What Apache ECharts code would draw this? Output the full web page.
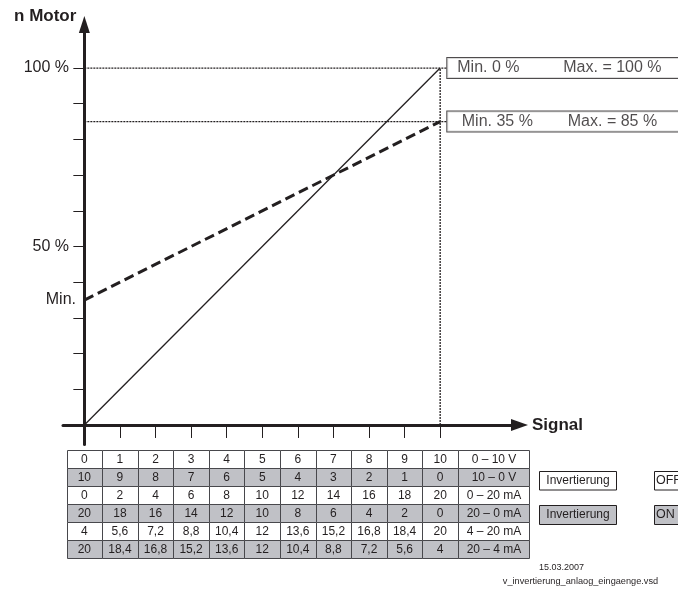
<!DOCTYPE html>
<html>
<head>
<meta charset="utf-8">
<script src="https://cdn.jsdelivr.net/npm/echarts@6/dist/echarts.min.js"></script>
<style>
html,body{margin:0;padding:0;background:#fff}
#chart{width:678px;height:592px}
</style>
</head>
<body>
<div id="chart"></div>
<script>
// Kennlinien
var signalRange = [0, 10];
var motorFull = [0, 100];
var motorLimited = [35, 85];
var xTicks = [1, 2, 3, 4, 5, 6, 7, 8, 9, 10];
var yTicks = [10, 20, 30, 40, 50, 60, 70, 80, 90, 100];
var yLabelValues = [35, 50, 100];
var boxTexts = [['Min. 0 %', 'Max. = 100 %'], ['Min. 35 %', 'Max. = 85 %']];

// Tabelle
var rowLabels = ['0 – 10 V', '10 – 0 V', '0 – 20 mA', '20 – 0 mA', '4 – 20 mA', '20 – 4 mA'];
var row010V = [0, 1, 2, 3, 4, 5, 6, 7, 8, 9, 10];
var row100V = [10, 9, 8, 7, 6, 5, 4, 3, 2, 1, 0];
var row020mA = [0, 2, 4, 6, 8, 10, 12, 14, 16, 18, 20];
var row200mA = [20, 18, 16, 14, 12, 10, 8, 6, 4, 2, 0];
var row420mA = [4, 5.6, 7.2, 8.8, 10.4, 12, 13.6, 15.2, 16.8, 18.4, 20];
var row204mA = [20, 18.4, 16.8, 15.2, 13.6, 12, 10.4, 8.8, 7.2, 5.6, 4];
var tableRows = [row010V, row100V, row020mA, row200mA, row420mA, row204mA];
var switchTexts = [['Invertierung', 'OFF'], ['Invertierung', 'ON']];
var footer = ['15.03.2007', 'v_invertierung_anlaog_eingaenge.vsd'];

var ink = '#231f20';
var gray = '#c0c1c6';
var font = '"Liberation Sans", Arial, sans-serif';
var boxX = 10.2;
var dots = {color: ink, width: 1.3, type: [2, 1]};

var myChart = echarts.init(document.getElementById('chart'));

var option = {
    animation: false,
    grid: {left: 63, right: 158.5, top: 24.5, bottom: 147.4},
    xAxis: {
        type: 'value',
        min: -0.6,
        max: 12.23,
        name: 'Signal',
        nameLocation: 'end',
        nameGap: 12.5,
        nameTextStyle: {fontFamily: font, fontWeight: 'bold', fontSize: 17, color: ink, align: 'left', verticalAlign: 'middle'},
        axisLine: {show: true, onZero: true, symbol: ['none', 'triangle'], symbolSize: [12, 17], lineStyle: {color: ink, width: 3}},
        axisTick: {show: true, customValues: xTicks, length: 13, lineStyle: {color: ink, width: 1}},
        axisLabel: {show: false},
        splitLine: {show: false}
    },
    yAxis: {
        type: 'value',
        min: -5.5,
        max: 112.2,
        name: 'n Motor',
        nameLocation: 'end',
        nameGap: 8.5,
        nameTextStyle: {fontFamily: font, fontWeight: 'bold', fontSize: 17, color: ink, align: 'right', verticalAlign: 'middle', padding: [0, 8, 0, 0]},
        axisLine: {show: true, onZero: true, symbol: ['none', 'triangle'], symbolSize: [11, 17], lineStyle: {color: ink, width: 3}},
        axisTick: {show: true, customValues: yTicks, length: 11, lineStyle: {color: ink, width: 1}},
        axisLabel: {
            customValues: yLabelValues,
            margin: -13,
            fontFamily: font,
            fontSize: 16,
            color: ink,
            formatter: function (v) { return v === motorLimited[0] ? 'Min.' : '{n|' + v + ' %}'; },
            rich: {n: {fontFamily: font, fontSize: 16, color: ink, padding: [0, 7, 0, 0]}}
        },
        splitLine: {show: false}
    },
    series: [
        {
            type: 'line', symbol: 'none', silent: true,
            data: [[signalRange[1], 0], [signalRange[1], motorFull[1]]],
            lineStyle: dots
        },
        {
            type: 'line', symbol: 'none', silent: true,
            data: [[0, motorFull[1]], [boxX, motorFull[1]]],
            lineStyle: dots
        },
        {
            type: 'line', symbol: 'none', silent: true,
            data: [[0, motorLimited[1]], [boxX, motorLimited[1]]],
            lineStyle: dots
        },
        {
            type: 'line', symbol: 'none', silent: true,
            data: [[signalRange[0], motorFull[0]], [signalRange[1], motorFull[1]]],
            lineStyle: {color: ink, width: 1.3}
        },
        {
            type: 'line', symbol: 'none', silent: true,
            data: [[signalRange[0], motorLimited[0]], [signalRange[1], motorLimited[1]]],
            lineStyle: {color: ink, width: 3, type: [10, 5]}
        },
        {
            type: 'scatter', symbolSize: 0, silent: true,
            data: [
                {value: [boxX, motorFull[1]], label: {padding: [2, 30, 2, 10]}},
                {value: [boxX, motorLimited[1]], label: {padding: [2, 30, 2, 14.5]}}
            ],
            label: {
                show: true,
                position: 'right',
                distance: 0,
                backgroundColor: '#fff',
                borderColor: ink,
                borderWidth: 1,
                formatter: function (p) {
                    return '{a|' + boxTexts[p.dataIndex][0] + '}{b|' + boxTexts[p.dataIndex][1] + '}';
                },
                rich: {
                    a: {width: 106, fontFamily: font, fontSize: 16, lineHeight: 16, color: ink},
                    b: {width: 120, fontFamily: font, fontSize: 16, lineHeight: 16, color: ink}
                }
            }
        }
    ]
};
myChart.setOption(option);

// Tabelle an der x-Achse ausrichten
var x0 = myChart.convertToPixel({xAxisIndex: 0}, 0);
var x1 = myChart.convertToPixel({xAxisIndex: 0}, 1);
var cw = x1 - x0;
var top0 = 450, rh = 18.05;
var border = '#48484c';
var graphics = [];
for (var r = 0; r < tableRows.length; r++) {
    var y = Math.round(top0 + r * rh) + 0.5;
    var h = Math.round(top0 + (r + 1) * rh) - Math.round(top0 + r * rh);
    var fill = r % 2 === 1 ? gray : '#fff';
    for (var c = 0; c < tableRows[r].length; c++) {
        var cx = myChart.convertToPixel({xAxisIndex: 0}, c);
        var left = Math.round(cx - cw / 2) + 0.5;
        var right = Math.round(cx + cw / 2) + 0.5;
        graphics.push({
            type: 'rect', shape: {x: left, y: y, width: right - left, height: h},
            style: {fill: fill, stroke: border, lineWidth: 1}, silent: true
        });
        graphics.push({
            type: 'text', silent: true,
            style: {text: String(tableRows[r][c]).replace('.', ','), x: cx, y: y + h / 2, align: 'center', verticalAlign: 'middle',
                fontFamily: font, fontSize: 12, fill: ink}
        });
    }
    var lx = Math.round(x0 + 10 * cw + cw / 2) + 0.5;
    graphics.push({
        type: 'rect', shape: {x: lx, y: y, width: 71, height: h},
        style: {fill: fill, stroke: border, lineWidth: 1}, silent: true
    });
    graphics.push({
        type: 'text', silent: true,
        style: {text: rowLabels[r], x: lx + 35.5, y: y + h / 2, align: 'center', verticalAlign: 'middle',
            fontFamily: font, fontSize: 12, fill: ink}
    });
}

// Invertierung / OFF / ON
var swY = [471.5, 505.5], swH = [18.5, 19];
for (var i = 0; i < switchTexts.length; i++) {
    var f = i === 1 ? gray : '#fff';
    graphics.push({
        type: 'rect', silent: true, shape: {x: 539.5, y: swY[i], width: 77, height: swH[i]},
        style: {fill: f, stroke: ink, lineWidth: 1}
    });
    graphics.push({
        type: 'text', silent: true,
        style: {text: switchTexts[i][0], x: 578, y: swY[i] + swH[i] / 2, align: 'center', verticalAlign: 'middle',
            fontFamily: font, fontSize: 12, fill: ink}
    });
    graphics.push({
        type: 'rect', silent: true, shape: {x: 654.5, y: swY[i], width: 40, height: swH[i]},
        style: {fill: f, stroke: ink, lineWidth: 1}
    });
    graphics.push({
        type: 'text', silent: true,
        style: {text: switchTexts[i][1], x: 656, y: swY[i] + swH[i] / 2, align: 'left', verticalAlign: 'middle',
            fontFamily: font, fontSize: 12.5, fill: ink}
    });
}

graphics.push({
    type: 'text', silent: true,
    style: {text: footer[0], x: 561.5, y: 568, align: 'center', verticalAlign: 'middle', fontFamily: font, fontSize: 9, fill: ink}
});
graphics.push({
    type: 'text', silent: true,
    style: {text: footer[1], x: 580.5, y: 581.5, align: 'center', verticalAlign: 'middle', fontFamily: font, fontSize: 9.2, fill: ink}
});

myChart.setOption({graphic: graphics});
</script>
</body>
</html>
